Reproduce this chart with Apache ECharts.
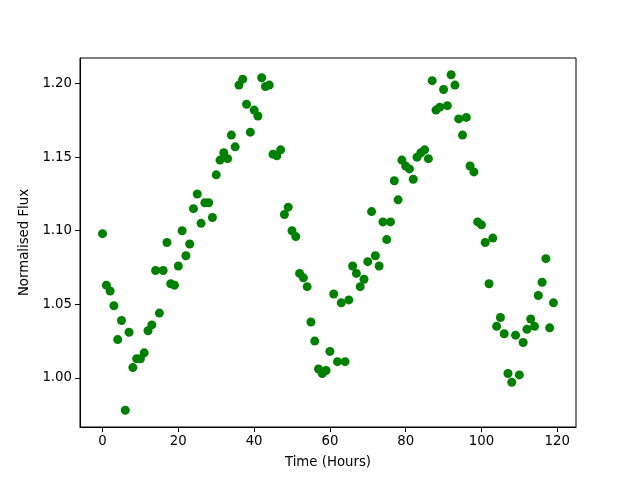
<!DOCTYPE html>
<html>
<head>
<meta charset="utf-8">
<script src="https://cdn.jsdelivr.net/npm/echarts@6/dist/echarts.min.js"></script>
<style>
  html, body { margin: 0; padding: 0; background: #fff; }
  #chart { width: 640px; height: 480px; }
</style>
</head>
<body>
<div id="chart"></div>
<script>
// hours 0..119
var hours = []
for (var i = 0; i < 120; i++) hours.push(i)

// normalised flux
var flux = [
  1.098, 1.063, 1.059, 1.049, 1.026, 1.039, 0.978, 1.031, 1.007, 1.013,
  1.013, 1.017, 1.032, 1.036, 1.073, 1.044, 1.073, 1.092, 1.064, 1.063,
  1.076, 1.100, 1.083, 1.091, 1.115, 1.125, 1.105, 1.119, 1.119, 1.109,
  1.138, 1.148, 1.153, 1.149, 1.165, 1.157, 1.199, 1.203, 1.186, 1.167,
  1.182, 1.178, 1.204, 1.198, 1.199, 1.152, 1.151, 1.155, 1.111, 1.116,
  1.100, 1.096, 1.071, 1.068, 1.062, 1.038, 1.025, 1.006, 1.003, 1.005,
  1.018, 1.057, 1.011, 1.051, 1.011, 1.053, 1.076, 1.071, 1.062, 1.067,
  1.079, 1.113, 1.083, 1.076, 1.106, 1.094, 1.106, 1.134, 1.121, 1.148,
  1.144, 1.142, 1.135, 1.150, 1.153, 1.155, 1.149, 1.202, 1.182, 1.184,
  1.196, 1.185, 1.206, 1.199, 1.176, 1.165, 1.177, 1.144, 1.140, 1.106,
  1.104, 1.092, 1.064, 1.095, 1.035, 1.041, 1.030, 1.003, 0.997, 1.029,
  1.002, 1.024, 1.033, 1.040, 1.035, 1.056, 1.065, 1.081, 1.034, 1.051
]

var xTicks = [0, 20, 40, 60, 80, 100, 120]
var yTicks = [1.00, 1.05, 1.10, 1.15, 1.20]

var points = []
for (var i = 0; i < hours.length; i++) {
  points.push([hours[i], flux[i]])
}

var chart = echarts.init(document.getElementById('chart'), null, { renderer: 'canvas' })
var font = 'DejaVu Sans'

var option = {
  animation: false,
  textStyle: { fontFamily: font },
  grid: {
    left: 80,
    right: 64,
    top: 58,
    bottom: 53,
    show: true,
    borderColor: '#000',
    borderWidth: 1
  },
  xAxis: {
    type: 'value',
    min: -5.95,
    max: 124.95,
    name: 'Time (Hours)',
    nameLocation: 'middle',
    nameGap: 29,
    nameTextStyle: { color: '#000', fontSize: 13.3, fontFamily: font },
    splitLine: { show: false },
    axisLine: { show: true, onZero: false, lineStyle: { color: '#000', width: 1 } },
    axisTick: { show: true, length: 5, customValues: xTicks, lineStyle: { color: '#000', width: 1 } },
    axisLabel: {
      customValues: xTicks,
      margin: 8,
      color: '#000',
      fontSize: 13.3,
      fontFamily: font
    }
  },
  yAxis: {
    type: 'value',
    min: 0.9666,
    max: 1.2174,
    name: 'Normalised Flux',
    nameLocation: 'middle',
    nameGap: 48,
    nameTextStyle: { color: '#000', fontSize: 13.3, fontFamily: font },
    splitLine: { show: false },
    axisLine: { show: true, onZero: false, lineStyle: { color: '#000', width: 1 } },
    axisTick: { show: true, length: 5, customValues: yTicks, lineStyle: { color: '#000', width: 1 } },
    axisLabel: {
      customValues: yTicks,
      margin: 8,
      color: '#000',
      fontSize: 13.3,
      fontFamily: font,
      formatter: function (v) { return v.toFixed(2) }
    }
  },
  series: [{
    type: 'scatter',
    data: points,
    symbol: 'circle',
    symbolSize: 9,
    itemStyle: { color: '#008000', opacity: 1 }
  }]
}
chart.setOption(option)
</script>
</body>
</html>
